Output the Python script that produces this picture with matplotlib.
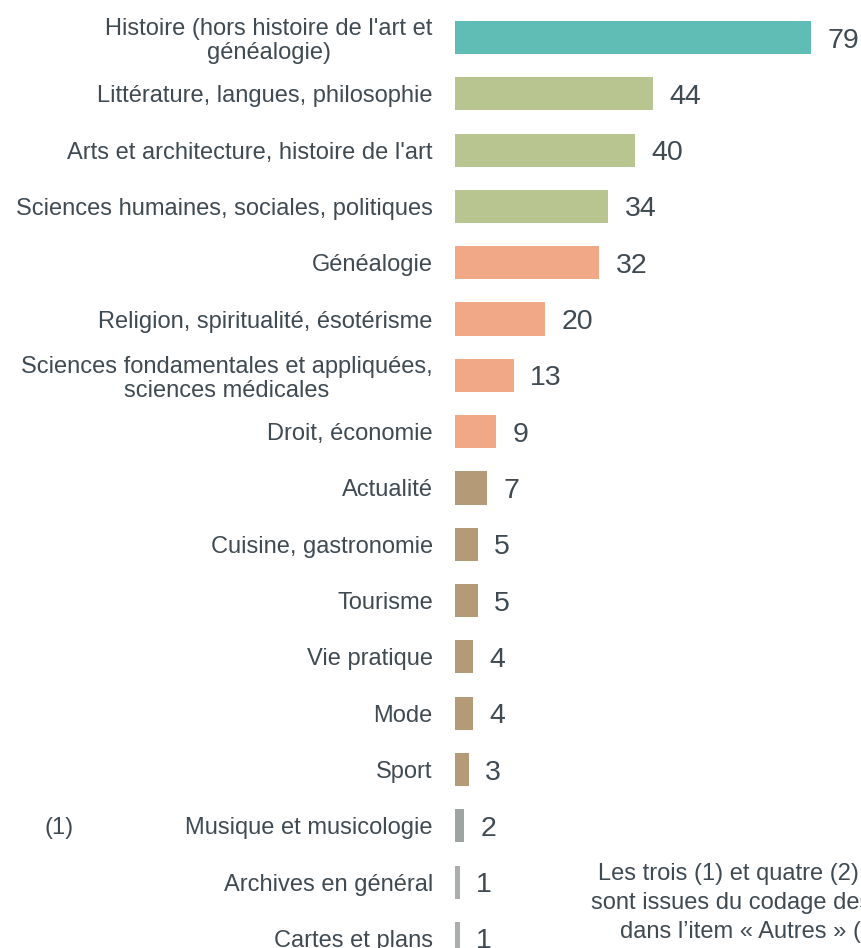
import matplotlib.pyplot as plt
from matplotlib import transforms

# --- data ---
categories = [
    "Histoire (hors histoire de l'art et\ngénéalogie)",
    "Littérature, langues, philosophie",
    "Arts et architecture, histoire de l'art",
    "Sciences humaines, sociales, politiques",
    "Généalogie",
    "Religion, spiritualité, ésotérisme",
    "Sciences fondamentales et appliquées,\nsciences médicales",
    "Droit, économie",
    "Actualité",
    "Cuisine, gastronomie",
    "Tourisme",
    "Vie pratique",
    "Mode",
    "Sport",
    "Musique et musicologie",
    "Archives en général",
    "Cartes et plans",
]
values = [79, 44, 40, 34, 32, 20, 13, 9, 7, 5, 5, 4, 4, 3, 2, 1, 1]
groups = ["teal", "green", "green", "green", "salmon", "salmon", "salmon", "salmon",
          "tan", "tan", "tan", "tan", "tan", "tan", "gray", "lightgray", "lightgray"]

note_lines = [
    "Les trois (1) et quatre (2) dernières catégories",
    "sont issues du codage des réponses",
    "dans l\u2019item « Autres » (question ouverte)",
]

palette = {
    "teal": "#5fbdb5",
    "green": "#b8c590",
    "salmon": "#f0a886",
    "tan": "#b59a78",
    "gray": "#9ea4a2",
    "lightgray": "#a9adab",
}
text_color = "#3f4a52"

plt.rcParams['font.family'] = ['Liberation Sans', 'DejaVu Sans']

fig = plt.figure(figsize=(8.62, 9.48), dpi=100)
ax = fig.add_axes([455 / 862, 0, 1 - 455 / 862, 1])

y_pos = list(range(len(categories)))
ax.barh(y_pos, values, height=0.59, color=[palette[g] for g in groups])

ax.set_xlim(0, 90.4)
ax.set_ylim(16.17, -0.666)

ax.set_yticks(y_pos)
ax.set_yticklabels(categories, fontsize=17, color=text_color, multialignment='center',
                   linespacing=1.1)
ax.tick_params(axis='y', length=0, pad=16)
ax.set_xticks([])
for s in ax.spines.values():
    s.set_visible(False)

# value labels
for y, v in zip(y_pos, values):
    ax.annotate(str(v), xy=(v, y), xytext=(12, 0), textcoords='offset points',
                va='center_baseline', ha='left', fontsize=20.5, color=text_color)

# "(1)" marker next to the Musique row
trans = transforms.blended_transform_factory(fig.transFigure, ax.transData)
ax.text(45 / 862, 14, "(1)", transform=trans, fontsize=17, color=text_color,
        va='center_baseline', ha='left', clip_on=False)

# note at the bottom right (cut by the figure edge, as in the source)
note_x = [598, 591, 620]
note_base = [880, 909, 938]
for line, x, yb in zip(note_lines, note_x, note_base):
    fig.text(x / 862, 1 - yb / 948, line, fontsize=17, color=text_color,
             ha='left', va='baseline')

fig.savefig("out.png", dpi=100)
